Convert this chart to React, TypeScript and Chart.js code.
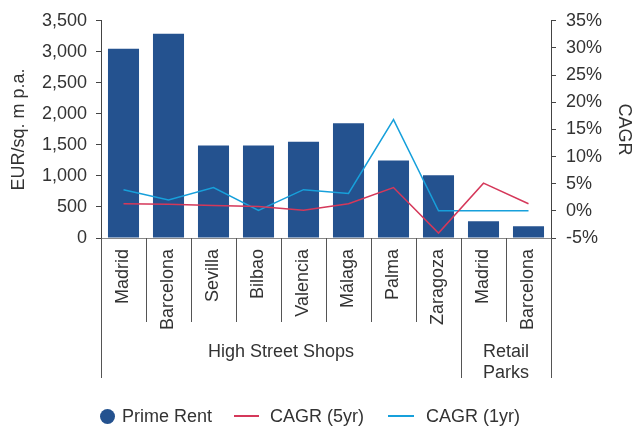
import React, { useEffect, useRef } from "react";
import { Chart, registerables } from "chart.js";

Chart.register(...registerables);

const categories = ["Madrid", "Barcelona", "Sevilla", "Bilbao", "Valencia", "Málaga", "Palma", "Zaragoza", "Madrid", "Barcelona"];
const primeRent = [3050, 3290, 1490, 1490, 1550, 1850, 1250, 1010, 270, 190];
const cagr5yr = [1.3, 1.2, 1.0, 0.8, 0.1, 1.3, 4.3, -4.1, 5.1, 1.3];
const cagr1yr = [3.9, 2.0, 4.3, 0.1, 3.9, 3.2, 16.8, 0.0, 0.0, 0.0];
const groupLabels = [["High Street Shops"], ["Retail", "Parks"]];
const groupSizes = [8, 2];
const rentTicks = { min: 0, max: 3500, step: 500 };
const cagrTicks = { min: -5, max: 35, step: 5 };

const BAR = "#24528f";
const RED = "#d5385a";
const BLUE = "#17a0db";
const TEXT = "#333333";
const FONT = "'Liberation Sans', Arial, sans-serif";

const groupPlugin = {
  id: "groupSeparators",
  afterDraw(chart: any) {
    const xs = chart.scales.x;
    const area = chart.chartArea;
    const ctx = chart.ctx;
    const n = categories.length;
    const step = xs.getPixelForValue(1) - xs.getPixelForValue(0);
    const bound = (i: number) => (i < n ? xs.getPixelForValue(i) - step / 2 : xs.getPixelForValue(n - 1) + step / 2);
    const groupEdges = new Set<number>([0]);
    let acc = 0;
    groupSizes.forEach((s) => { acc += s; groupEdges.add(acc); });
    const top = area.bottom;
    ctx.save();
    ctx.strokeStyle = "#555";
    ctx.lineWidth = 1;
    for (let i = 0; i <= n; i++) {
      const len = groupEdges.has(i) ? 140 : 84;
      const px = Math.round(bound(i)) + 0.5;
      ctx.beginPath();
      ctx.moveTo(px, top);
      ctx.lineTo(px, top + len);
      ctx.stroke();
    }
    ctx.fillStyle = TEXT;
    ctx.font = `18px ${FONT}`;
    ctx.textAlign = "center";
    ctx.textBaseline = "middle";
    let start = 0;
    groupSizes.forEach((s, g) => {
      const cx = (bound(start) + bound(start + s)) / 2;
      groupLabels[g].forEach((line, k) => {
        ctx.fillText(line, cx, top + 114 + k * 21);
      });
      start += s;
    });
    ctx.restore();
  },
};

export default function App() {
  const ref = useRef<HTMLCanvasElement | null>(null);
  useEffect(() => {
    if (!ref.current) return;
    Chart.defaults.font.family = FONT;
    Chart.defaults.color = TEXT;
    const chart = new Chart(ref.current, {
      type: "bar",
      data: {
        labels: categories,
        datasets: [
          {
            type: "bar",
            label: "Prime Rent",
            data: primeRent,
            backgroundColor: BAR,
            yAxisID: "y",
            barPercentage: 0.69,
            categoryPercentage: 1,
            order: 3,
          },
          {
            type: "line",
            label: "CAGR (5yr)",
            data: cagr5yr,
            borderColor: RED,
            backgroundColor: RED,
            borderWidth: 1.5,
            pointRadius: 0,
            tension: 0,
            yAxisID: "y1",
            order: 1,
          },
          {
            type: "line",
            label: "CAGR (1yr)",
            data: cagr1yr,
            borderColor: BLUE,
            backgroundColor: BLUE,
            borderWidth: 1.5,
            pointRadius: 0,
            tension: 0,
            yAxisID: "y1",
            order: 2,
          },
        ] as any,
      },
      options: {
        responsive: false,
        animation: false,
        layout: { padding: { top: 18, left: 0, right: 0, bottom: 0 } },
        plugins: { legend: { display: false }, tooltip: { enabled: false } },
        scales: {
          x: {
            offset: true,
            grid: { display: false, drawTicks: false },
            border: { display: true, color: "#888" },
            ticks: { maxRotation: 90, minRotation: 90, autoSkip: false, padding: 11, font: { size: 18 }, color: TEXT },
            afterFit: (s: any) => { s.height = 190; },
          },
          y: {
            position: "left",
            min: rentTicks.min,
            max: rentTicks.max,
            ticks: {
              stepSize: rentTicks.step,
              padding: 9,
              font: { size: 18 },
              color: TEXT,
              callback: (v: any) => Number(v).toLocaleString("en-US"),
            },
            grid: { drawOnChartArea: false, drawTicks: true, tickLength: 5, color: "#444" },
            border: { display: true, color: "#444" },
            title: { display: true, text: "EUR/sq. m p.a.", font: { size: 18 }, color: TEXT, padding: { top: 8, bottom: 0 } },
            afterFit: (s: any) => { s.width = 101; },
          },
          y1: {
            position: "right",
            min: cagrTicks.min,
            max: cagrTicks.max,
            ticks: {
              stepSize: cagrTicks.step,
              padding: 10,
              font: { size: 18 },
              color: TEXT,
              callback: (v: any) => `${v}%`,
            },
            grid: { drawOnChartArea: false, drawTicks: true, tickLength: 5, color: "#444" },
            border: { display: true, color: "#444" },
            title: { display: true, text: "CAGR", font: { size: 18 }, color: TEXT, padding: { top: 8, bottom: 0 } },
            afterFit: (s: any) => { s.width = 92; },
          },
        },
      } as any,
      plugins: [groupPlugin],
    });
    return () => chart.destroy();
  }, []);

  const legendText: React.CSSProperties = { fontFamily: FONT, fontSize: 18, color: TEXT, whiteSpace: "nowrap" };
  return (
    <div style={{ position: "absolute", left: 0, top: 0, width: 643, height: 428 }}>
      <canvas ref={ref} width={643} height={428} style={{ display: "block" }} />
      <div style={{ position: "absolute", left: 100, top: 405, height: 22, display: "flex", alignItems: "center" }}>
        <span style={{ width: 15, height: 15, borderRadius: "50%", background: BAR, display: "inline-block" }} />
        <span style={{ ...legendText, marginLeft: 7 }}>Prime Rent</span>
        <span style={{ width: 25, height: 2, background: RED, display: "inline-block", marginLeft: 22 }} />
        <span style={{ ...legendText, marginLeft: 11 }}>CAGR (5yr)</span>
        <span style={{ width: 26, height: 2, background: BLUE, display: "inline-block", marginLeft: 24 }} />
        <span style={{ ...legendText, marginLeft: 12 }}>CAGR (1yr)</span>
      </div>
    </div>
  );
}
